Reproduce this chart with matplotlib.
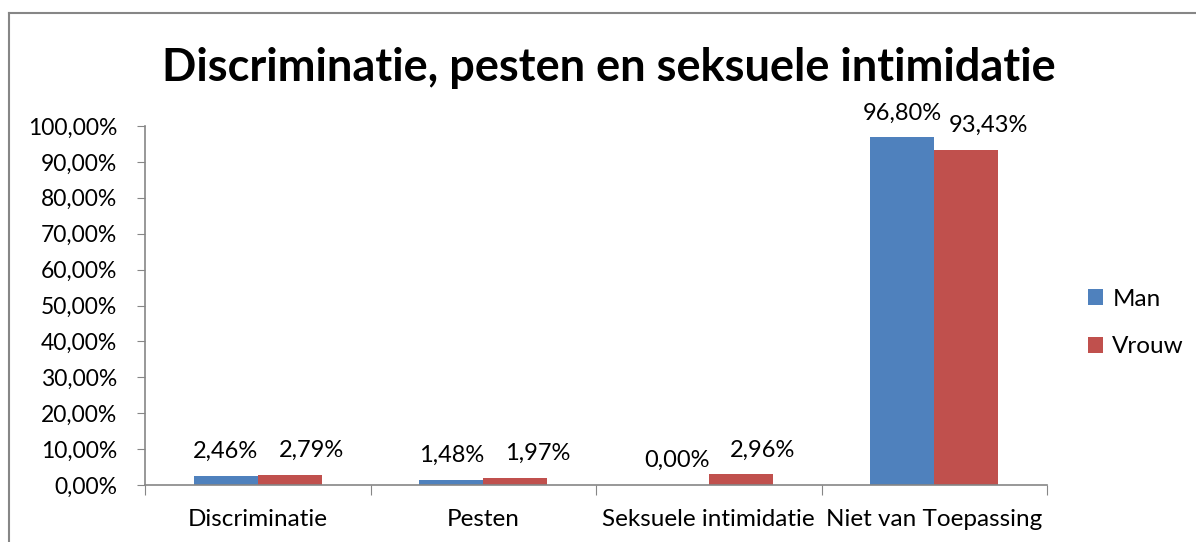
import numpy as np
import matplotlib.pyplot as plt
from matplotlib.lines import Line2D
from matplotlib.ticker import FuncFormatter

categories = ['Discriminatie', 'Pesten', 'Seksuele intimidatie', 'Niet van Toepassing']
man = [2.46, 1.48, 0.00, 96.80]
vrouw = [2.79, 1.97, 2.96, 93.43]
series_names = ['Man', 'Vrouw']
colors = ['#4F81BD', '#C0504D']
axis_gray = '#868686'

plt.rcParams['font.family'] = ['Lato', 'DejaVu Sans']

fig = plt.figure(figsize=(11.96, 5.42), dpi=100)
ax = fig.add_axes([145 / 1196, 1 - 485 / 542, (1047 - 145) / 1196, (485 - 126) / 542])

x = np.arange(len(categories))
width = 0.284
b1 = ax.bar(x - width / 2, man, width, color=colors[0], label=series_names[0])
b2 = ax.bar(x + width / 2, vrouw, width, color=colors[1], label=series_names[1])

def pct(v):
    return f'{v:.2f}%'.replace('.', ',')

# Excel nudged the Vrouw labels to the right to keep them apart
for bars, vals, dx in ((b1, man, 0), (b2, vrouw, 16)):
    for rect, v in zip(bars, vals):
        ax.annotate(pct(v), (rect.get_x() + rect.get_width() / 2, v),
                    xytext=(dx, 10), textcoords='offset points',
                    ha='center', va='bottom', fontsize=17)

ax.set_xlim(-0.5, len(categories) - 0.5)
ax.set_ylim(0, 100)
ax.set_yticks(np.arange(0, 101, 10))
ax.yaxis.set_major_formatter(FuncFormatter(lambda v, p: pct(v)))
ax.set_xticks(np.arange(-0.5, len(categories), 1.0))
ax.set_xticklabels([])
ax.set_xticks(x, minor=True)
ax.set_xticklabels(categories, minor=True)
ax.tick_params(axis='x', which='minor', length=0, pad=17, labelsize=17.5)
ax.tick_params(axis='x', which='major', length=7, color=axis_gray, direction='out')
ax.tick_params(axis='y', length=6, color=axis_gray, labelsize=16.5, pad=14)

for side in ('top', 'right'):
    ax.spines[side].set_visible(False)
for side in ('left', 'bottom'):
    ax.spines[side].set_color(axis_gray)
    ax.spines[side].set_linewidth(1.2)

fig.text(609 / 1196, 1 - 68 / 542, 'Discriminatie, pesten en seksuele intimidatie',
         ha='center', va='center', fontsize=32.5, fontweight='bold')

fig.legend(handles=[b1, b2], labels=series_names, loc='center left',
           bbox_to_anchor=(1088 / 1196, 1 - 323 / 542), frameon=False,
           borderaxespad=0, borderpad=0,
           fontsize=17.5, handlelength=0.6, handleheight=0.6, labelspacing=1.1,
           handletextpad=0.4)

# outer chart border (left and top edges visible)
fig.add_artist(Line2D([8.5 / 1196, 8.5 / 1196], [0, 1 - 13 / 542], transform=fig.transFigure,
                      color=axis_gray, lw=1.5))
fig.add_artist(Line2D([8.5 / 1196, 1], [1 - 13 / 542, 1 - 13 / 542], transform=fig.transFigure,
                      color=axis_gray, lw=1.5))

plt.savefig('out.png', dpi=100)
